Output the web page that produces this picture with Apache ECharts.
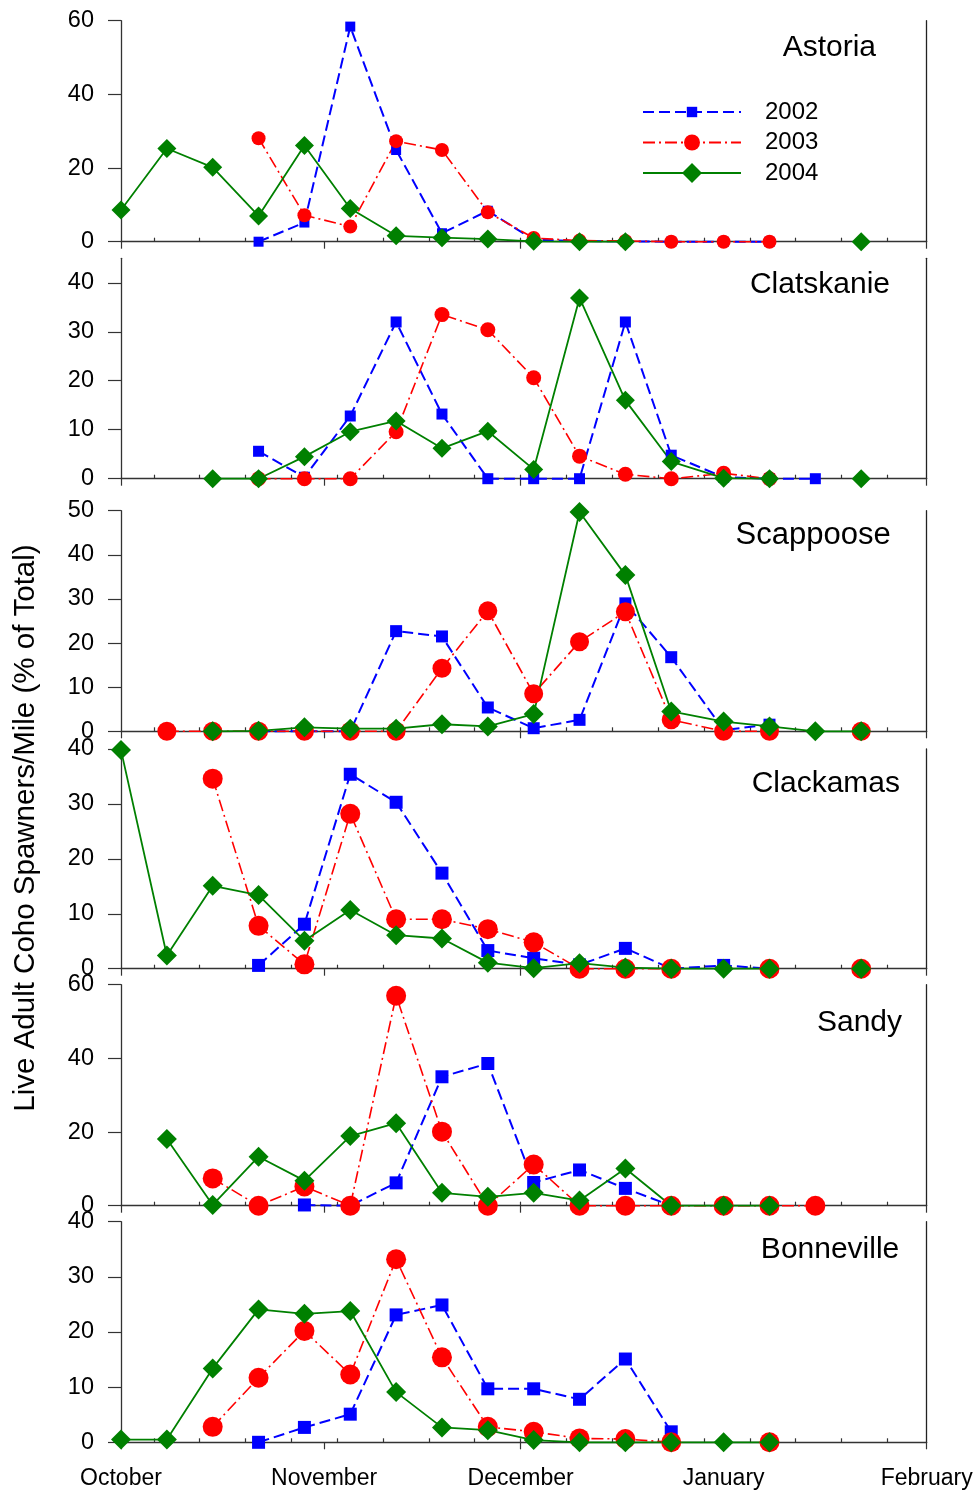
<!DOCTYPE html>
<html>
<head>
<meta charset="utf-8">
<script src="https://cdn.jsdelivr.net/npm/echarts@6/dist/echarts.min.js"></script>
<style>
html,body{margin:0;padding:0;background:#fff;}
#chart{width:978px;height:1494px;}
</style>
</head>
<body>
<div id="chart"></div>
<script>
const n = null;
// survey dates, days after 1 October
const days = [0, 7, 14, 21, 28, 35, 42, 49, 56, 63, 70, 77, 84, 92, 99, 106, 113];
const years = ['2002', '2003', '2004'];
const sites = ['Astoria', 'Clatskanie', 'Scappoose', 'Clackamas', 'Sandy', 'Bonneville'];
const yMax = [60, 45, 50, 40, 60, 40];
const yTickValues = [
  [0, 20, 40, 60],
  [0, 10, 20, 30, 40],
  [0, 10, 20, 30, 40, 50],
  [0, 10, 20, 30, 40],
  [0, 20, 40, 60],
  [0, 10, 20, 30, 40]
];
const monthDays = [0, 31, 61, 92, 123];
const monthLabels = ['October', 'November', 'December', 'January', 'February'];
const majorTickDays = [0, 31, 61, 123];
const weekTickDays = [5, 12, 19, 26, 33, 40, 47, 54, 61, 68, 75, 82, 89, 96, 103, 110, 117];
const yTitle = 'Live Adult Coho Spawners/Mile (% of Total)';

// values (% of total) per survey date
const astoria2002 = [n, n, n, 0, 5.2, 58.4, 24.9, 2.3, 8.4, 0.5, 0.2, 0.1, 0, 0, 0, n, n];
const astoria2003 = [n, n, n, 28.1, 7.2, 4.1, 27.3, 24.9, 8.0, 1.0, 0.3, 0.2, 0, 0, 0, n, n];
const astoria2004 = [8.6, 25.3, 20.2, 7.0, 26.1, 9.0, 1.6, 1.1, 0.7, 0.1, 0, 0, n, n, n, n, 0];

const clatskanie2002 = [n, n, n, 5.6, 0.3, 12.8, 32.0, 13.2, 0, 0, 0, 32.0, 4.8, 0.3, 0, 0, n];
const clatskanie2003 = [n, n, n, 0, 0, 0, 9.6, 33.5, 30.4, 20.6, 4.6, 0.9, 0, 1.1, 0, n, n];
const clatskanie2004 = [n, n, 0, 0, 4.5, 9.6, 11.8, 6.2, 9.7, 1.9, 36.9, 16.0, 3.5, 0.1, 0, n, 0];

const scappoose2002 = [n, n, n, 0, 0, 0, 22.7, 21.5, 5.4, 0.7, 2.6, 29.0, 16.8, 0.3, 1.5, n, n];
const scappoose2003 = [n, 0, 0, 0, 0, 0, 0, 14.3, 27.3, 8.5, 20.3, 27.1, 2.6, 0, 0, n, 0];
const scappoose2004 = [n, n, 0, 0.1, 0.9, 0.6, 0.6, 1.6, 1.1, 3.9, 49.7, 35.4, 4.5, 2.2, 1.1, 0, 0];

const clackamas2002 = [n, n, n, 0.6, 8.1, 35.4, 30.3, 17.4, 3.3, 1.9, 0.7, 3.7, 0, 0.6, 0, n, n];
const clackamas2003 = [n, n, 34.6, 7.8, 0.8, 28.2, 9.0, 9.0, 7.2, 4.8, 0, 0, 0, n, 0, n, 0];
const clackamas2004 = [39.8, 2.4, 15.1, 13.4, 5.1, 10.7, 6.1, 5.5, 1.1, 0.1, 1.0, 0.2, 0, 0, 0, n, 0];

const sandy2002 = [n, n, n, n, 0.2, 0, 6.2, 35.0, 38.6, 6.3, 9.7, 4.7, 0, n, n, n, n];
const sandy2003 = [n, n, 7.4, 0, 5.2, 0, 57.0, 20.1, 0, 11.2, 0, 0, 0, 0, 0, 0, n];
const sandy2004 = [n, 18.1, 0.2, 13.3, 6.8, 18.9, 22.4, 3.5, 2.4, 3.5, 1.4, 10.1, 0, 0, 0, n, n];

const bonneville2002 = [n, n, n, 0, 2.7, 5.1, 23.1, 24.9, 9.7, 9.7, 7.8, 15.1, 1.9, n, n, n, n];
const bonneville2003 = [n, n, 2.8, 11.7, 20.2, 12.3, 33.2, 15.4, 2.8, 1.9, 0.7, 0.6, 0, n, 0, n, n];
const bonneville2004 = [0.5, 0.5, 13.4, 24.1, 23.3, 23.8, 9.1, 2.7, 2.2, 0.4, 0, 0, 0, 0, 0, n, n];

const siteSeries = [
  [astoria2002, astoria2003, astoria2004],
  [clatskanie2002, clatskanie2003, clatskanie2004],
  [scappoose2002, scappoose2003, scappoose2004],
  [clackamas2002, clackamas2003, clackamas2004],
  [sandy2002, sandy2003, sandy2004],
  [bonneville2002, bonneville2003, bonneville2004]
];

// ---------- layout & styles ----------
const FONT = '"Liberation Sans", Arial, Helvetica, sans-serif';
const AXIS_COLOR = '#333';
const gridTop = [20.7, 258.3, 510.7, 749, 984.7, 1221.7];
const gridHeight = [221, 220.4, 220.6, 219.7, 221, 220.6];
const gridLeft = 121, gridRight = 51.3;
const titleRight = [102, 88, 87.3, 78, 76, 78.7];
const titleCenter = [48, 284.5, 535, 784, 1023, 1249.5];
const titleSize = [30, 30, 31, 30, 30, 30];
const yearStyle = [
  { color: '#0000ff', symbol: 'rect', dash: [11, 5], width: 2 },
  { color: '#ff0000', symbol: 'circle', dash: [12, 4, 2, 4], width: 1.6 },
  { color: '#008000', symbol: 'diamond', dash: 'solid', width: 1.8 }
];
const symSizes = [[10, 14, 19], [11, 15, 19], [12, 19, 20], [13, 20, 20], [13, 20, 20], [13, 20, 20]];
const legendIconHeight = [13, 20, 25];
const legendRowCenter = [112, 142.5, 173];

const grids = [], xAxes = [], yAxes = [], series = [], titles = [];
sites.forEach((site, i) => {
  grids.push({ left: gridLeft, right: gridRight, top: gridTop[i], height: gridHeight[i], containLabel: false });
  const last = i === sites.length - 1;
  // weekly ticks (inward) + axis line
  xAxes.push({
    type: 'value', gridIndex: i, min: 0, max: 123, position: 'bottom',
    axisLine: { show: true, onZero: false, lineStyle: { color: AXIS_COLOR, width: 1.3 } },
    axisTick: { show: true, inside: true, length: 4, customValues: weekTickDays, lineStyle: { color: AXIS_COLOR, width: 1.2 } },
    axisLabel: { show: false },
    splitLine: { show: false }
  });
  // month ticks (outward) + month labels
  xAxes.push({
    type: 'value', gridIndex: i, min: 0, max: 123, position: 'bottom',
    axisLine: { show: false, onZero: false },
    axisTick: { show: true, inside: false, length: 7, customValues: majorTickDays, lineStyle: { color: AXIS_COLOR, width: 1.2 } },
    axisLabel: {
      show: last, customValues: monthDays, margin: 25,
      formatter: v => monthLabels[monthDays.indexOf(v)] || '',
      fontSize: 23, color: '#000', fontFamily: FONT
    },
    splitLine: { show: false }
  });
  yAxes.push({
    type: 'value', gridIndex: i, min: 0, max: yMax[i], position: 'left',
    axisLine: { show: true, onZero: false, lineStyle: { color: AXIS_COLOR, width: 1.3 } },
    axisTick: { show: true, inside: false, length: 13, customValues: yTickValues[i], lineStyle: { color: AXIS_COLOR, width: 1.2 } },
    axisLabel: { customValues: yTickValues[i], margin: 27, fontSize: 23.5, color: '#000', fontFamily: FONT },
    splitLine: { show: false }
  });
  yAxes.push({
    type: 'value', gridIndex: i, min: 0, max: yMax[i], position: 'right',
    axisLine: { show: true, onZero: false, lineStyle: { color: '#222', width: 1.3 } },
    axisTick: { show: false }, axisLabel: { show: false }, splitLine: { show: false }
  });
  years.forEach((yr, k) => {
    const st = yearStyle[k];
    series.push({
      name: yr, type: 'line', xAxisIndex: 2 * i, yAxisIndex: 2 * i,
      data: days.map((d, j) => [d, siteSeries[i][k][j]]),
      symbol: st.symbol, symbolSize: symSizes[i][k], showSymbol: true,
      clip: false, connectNulls: false, animation: false,
      itemStyle: { color: st.color },
      lineStyle: { color: st.color, width: st.width, type: st.dash }
    });
  });
  titles.push({
    text: site, right: titleRight[i], top: titleCenter[i] - titleSize[i] / 2, padding: 0,
    textStyle: { fontSize: titleSize[i], fontWeight: 'normal', color: '#000', fontFamily: FONT }
  });
});

const legends = years.map((yr, k) => ({
  data: [yr], orient: 'vertical', left: 642, top: legendRowCenter[k] - 13,
  padding: 0, itemWidth: 98, itemHeight: legendIconHeight[k], selectedMode: false,
  textStyle: { fontSize: 24, color: '#000', fontFamily: FONT, lineHeight: 26, padding: [0, 0, 0, 19] }
}));

const chart = echarts.init(document.getElementById('chart'), null, { renderer: 'canvas' });
chart.setOption({
  backgroundColor: '#fff',
  animation: false,
  textStyle: { fontFamily: FONT },
  title: titles,
  legend: legends,
  grid: grids,
  xAxis: xAxes,
  yAxis: yAxes,
  series: series,
  graphic: [{
    type: 'text', x: 26, y: 828, rotation: Math.PI / 2,
    style: { text: yTitle, fontSize: 29.5, fontFamily: FONT, fill: '#000', align: 'center', verticalAlign: 'middle' }
  }]
});
</script>
</body>
</html>
